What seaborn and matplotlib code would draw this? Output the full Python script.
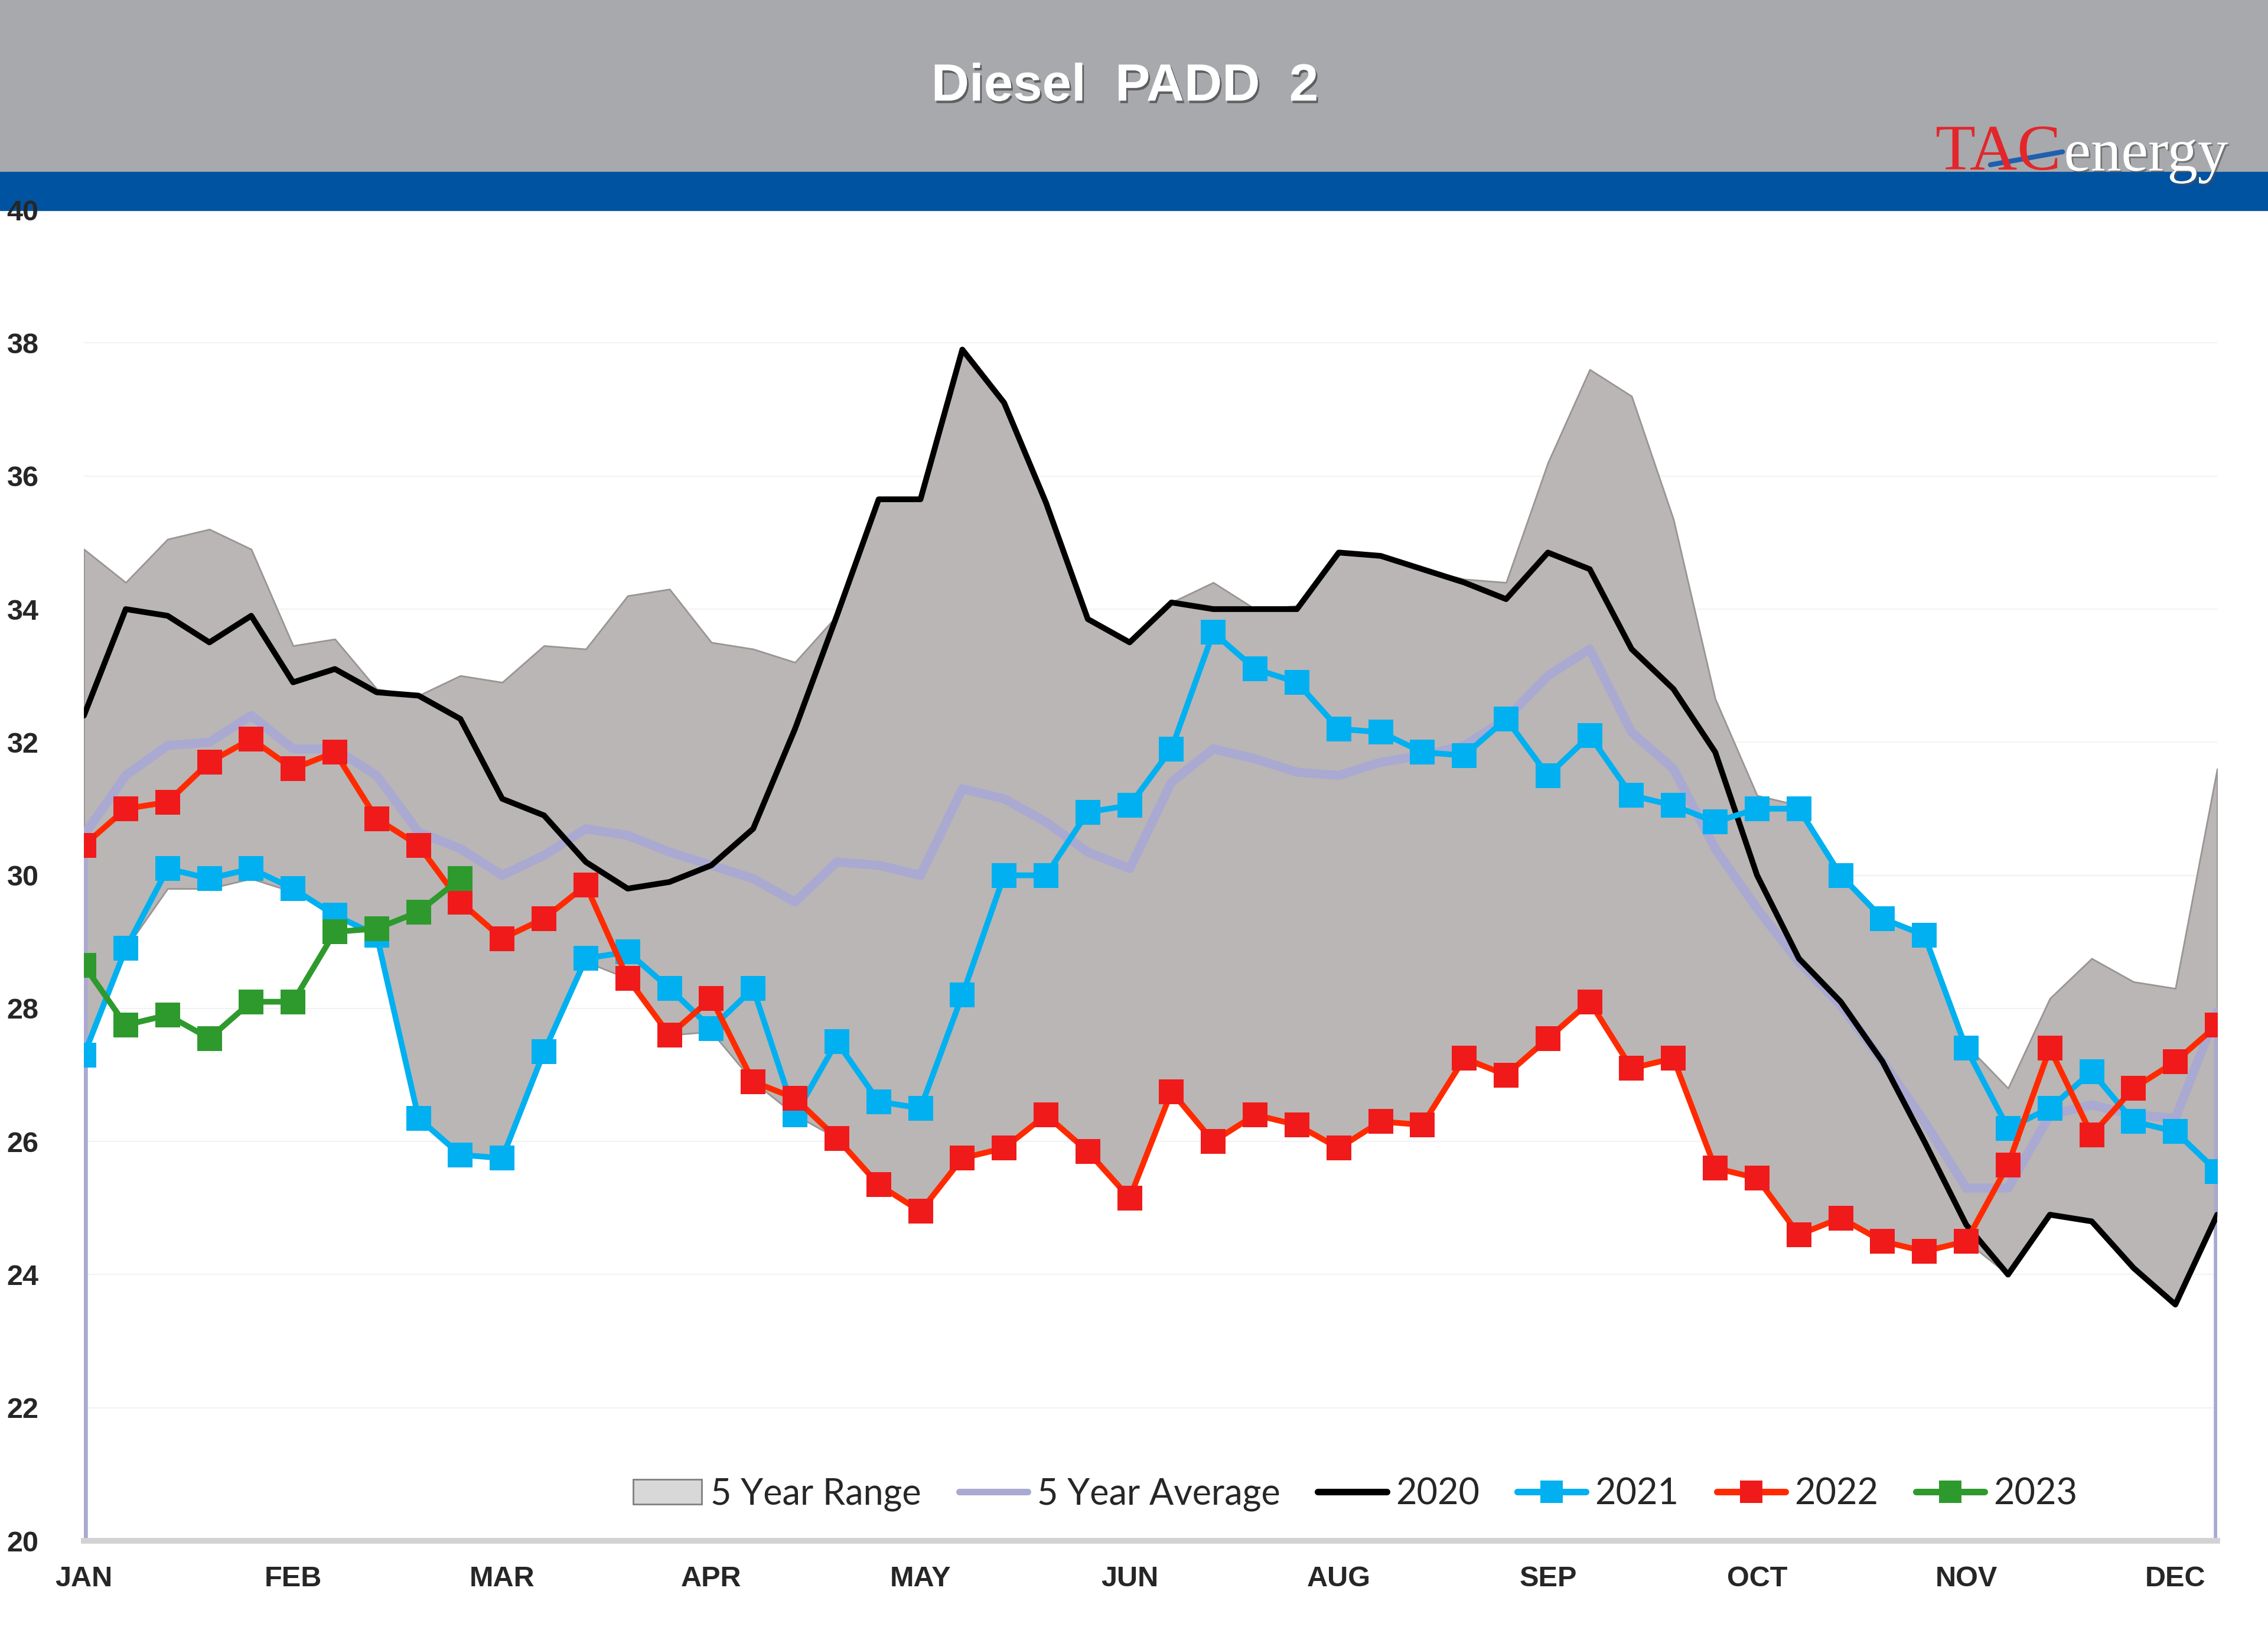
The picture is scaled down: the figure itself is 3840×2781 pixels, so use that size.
import pandas as pd
import matplotlib
matplotlib.use('Agg')
import matplotlib.pyplot as plt
import matplotlib.patheffects as pe
from matplotlib.patches import Rectangle, Patch
from matplotlib.lines import Line2D
import seaborn as sns

# weekly data, 52 weeks
weeks = list(range(52))
months = ['JAN', 'FEB', 'MAR', 'APR', 'MAY', 'JUN', 'AUG', 'SEP', 'OCT', 'NOV', 'DEC']

range_hi = [34.9, 34.4, 35.05, 35.2, 34.9, 33.45, 33.55, 32.8, 32.7, 33.0, 32.9, 33.45, 33.4,
            34.2, 34.3, 33.5, 33.4, 33.2, 33.9, 35.65, 35.65, 37.9, 37.1, 35.6, 33.85, 33.5,
            34.1, 34.4, 34.0, 34.05, 34.85, 34.8, 34.6, 34.45, 34.4, 36.2, 37.6, 37.2, 35.35,
            32.65, 31.2, 31.05, 30.0, 29.35, 29.1, 27.45, 26.8, 28.15, 28.75, 28.4, 28.3, 31.6]
range_lo = [27.3, 28.9, 29.8, 29.8, 29.95, 29.75, 29.4, 29.05, 26.35, 25.8, 25.75, 27.35, 28.7,
            28.45, 27.6, 27.65, 26.9, 26.4, 26.05, 25.35, 24.95, 25.75, 25.9, 26.4, 25.8, 25.15,
            26.75, 26.0, 26.4, 26.25, 25.9, 26.3, 26.25, 27.2, 27.0, 27.5, 28.1, 27.1, 27.25,
            25.6, 25.45, 24.6, 24.85, 24.5, 24.35, 24.5, 24.0, 24.9, 24.8, 24.1, 23.55, 24.9]
avg5 = [30.6, 31.5, 31.95, 32.0, 32.4, 31.9, 31.9, 31.5, 30.65, 30.4, 30.0, 30.3, 30.7, 30.6,
        30.35, 30.15, 29.95, 29.6, 30.2, 30.15, 30.0, 31.3, 31.15, 30.8, 30.35, 30.1, 31.4, 31.9,
        31.75, 31.55, 31.5, 31.7, 31.8, 31.95, 32.35, 33.0, 33.4, 32.15, 31.6, 30.4, 29.5, 28.7,
        28.05, 27.2, 26.3, 25.3, 25.3, 26.4, 26.55, 26.4, 26.35, 27.95]
y2020 = [32.4, 34.0, 33.9, 33.5, 33.9, 32.9, 33.1, 32.75, 32.7, 32.35, 31.15, 30.9, 30.2, 29.8,
         29.9, 30.15, 30.7, 32.2, 33.9, 35.65, 35.65, 37.9, 37.1, 35.6, 33.85, 33.5, 34.1, 34.0,
         34.0, 34.0, 34.85, 34.8, 34.6, 34.4, 34.15, 34.85, 34.6, 33.4, 32.8, 31.85, 30.0, 28.75,
         28.1, 27.2, 26.0, 24.75, 24.0, 24.9, 24.8, 24.1, 23.55, 24.9]
y2021 = [27.3, 28.9, 30.1, 29.95, 30.1, 29.8, 29.4, 29.1, 26.35, 25.8, 25.75, 27.35, 28.75, 28.85,
         28.3, 27.7, 28.3, 26.4, 27.5, 26.6, 26.5, 28.2, 30.0, 30.0, 30.95, 31.05, 31.9, 33.65,
         33.1, 32.9, 32.2, 32.15, 31.85, 31.8, 32.35, 31.5, 32.1, 31.2, 31.05, 30.8, 31.0, 31.0,
         30.0, 29.35, 29.1, 27.4, 26.2, 26.5, 27.05, 26.3, 26.15, 25.55]
y2022 = [30.45, 31.0, 31.1, 31.7, 32.05, 31.6, 31.85, 30.85, 30.45, 29.6, 29.05, 29.35, 29.85,
         28.45, 27.6, 28.15, 26.9, 26.65, 26.05, 25.35, 24.95, 25.75, 25.9, 26.4, 25.85, 25.15,
         26.75, 26.0, 26.4, 26.25, 25.9, 26.3, 26.25, 27.25, 27.0, 27.55, 28.1, 27.1, 27.25, 25.6,
         25.45, 24.6, 24.85, 24.5, 24.35, 24.5, 25.65, 27.4, 26.1, 26.8, 27.2, 27.75]
y2023 = [28.65, 27.75, 27.9, 27.55, 28.1, 28.1, 29.15, 29.2, 29.45, 29.95]

df = pd.DataFrame({'week': weeks, 'hi': range_hi, 'lo': range_lo, 'avg': avg5,
                   '2020': y2020, '2021': y2021, '2022': y2022})
df23 = pd.DataFrame({'week': weeks[:len(y2023)], '2023': y2023})

c_range = '#BAB6B5'
c_avg = '#A9A9D2'
c_2021 = '#00B0F0'
c_2022 = '#FF2A00'
c_2022m = '#F01A1A'
c_2023 = '#2E9A2E'

sns.set_theme(style='white')
plt.rcParams['font.family'] = ['Liberation Sans', 'DejaVu Sans']

fig = plt.figure(figsize=(38.4, 27.81), dpi=100)

# header bands (behind the axes so the top tick label stays visible)
fig.patches.append(Rectangle((0, 0.8954), 1, 0.1046, transform=fig.transFigure,
                             color='#A7A9AC', zorder=-2))
fig.patches.append(Rectangle((0, 0.872), 1, 0.0234, transform=fig.transFigure,
                             color='#0053A1', zorder=-2))
fig.text(0.496, 0.947, 'Diesel  PADD  2', color='white', fontsize=64, fontweight='bold',
         ha='center', va='center',
         path_effects=[pe.withSimplePatchShadow(offset=(2, -3), shadow_rgbFace='#404040', alpha=0.7)])
fig.text(0.8534, 0.8968, 'TAC', color='#E3262B', fontsize=80, family='Liberation Serif',
         ha='left', va='baseline')
fig.text(0.9100, 0.8962, 'energy', color='white', fontsize=74, family='Liberation Serif',
         ha='left', va='baseline',
         path_effects=[pe.withSimplePatchShadow(offset=(2, -2), shadow_rgbFace='#505050', alpha=0.6)])
fig.add_artist(Line2D([0.8776, 0.9094], [0.8997, 0.9076], transform=fig.transFigure,
                      color='#1F5FAF', linewidth=6))

ax = fig.add_axes([0.037, 0.0622, 0.9406, 0.8101])
ax.patch.set_alpha(0)

# 5 year range band
ax.fill_between(df['week'], df['lo'], df['hi'], color=c_range, edgecolor='#9A9595',
                linewidth=2, zorder=1)

# 5 year average, dropping to the axis floor at both ends
ax.vlines([weeks[0], weeks[-1]], 20, [avg5[0], avg5[-1]], color=c_avg, linewidth=9, zorder=2)
sns.lineplot(data=df, x='week', y='avg', ax=ax, color=c_avg, linewidth=11, zorder=3)

sns.lineplot(data=df, x='week', y='2020', ax=ax, color='black', linewidth=7, zorder=4)
sns.lineplot(data=df, x='week', y='2021', ax=ax, color=c_2021, linewidth=7, marker='s',
             markersize=30, markeredgewidth=0, zorder=5)
sns.lineplot(data=df, x='week', y='2022', ax=ax, color=c_2022, linewidth=7, marker='s',
             markersize=30, markerfacecolor=c_2022m, markeredgewidth=0, zorder=6)
sns.lineplot(data=df23, x='week', y='2023', ax=ax, color=c_2023, linewidth=7, marker='s',
             markersize=30, markeredgewidth=0, zorder=7)

ax.set_xlim(weeks[0], weeks[-1])
ax.set_ylim(20, 40)
ax.set_yticks(list(range(20, 41, 2)))
ax.set_xticks(weeks[::5])
ax.set_xticklabels(months)
ax.tick_params(axis='y', length=0, pad=55, labelsize=35)
ax.tick_params(axis='x', length=0, pad=30, labelsize=35)
for lab in ax.get_xticklabels() + ax.get_yticklabels():
    lab.set_fontweight('bold')
ax.set_xlabel('')
ax.set_ylabel('')
ax.grid(axis='y', color='#F2F2F2', linewidth=1.5)
ax.yaxis.get_gridlines()[-1].set_visible(False)
ax.set_axisbelow(True)
for s in ['top', 'left', 'right']:
    ax.spines[s].set_visible(False)
ax.spines['bottom'].set_color('#D2D2D2')
ax.spines['bottom'].set_linewidth(7)

handles = [
    Patch(facecolor='#D8D8D8', edgecolor='#7F7F7F', linewidth=2),
    Line2D([], [], color=c_avg, linewidth=8),
    Line2D([], [], color='black', linewidth=8),
    Line2D([], [], color=c_2021, linewidth=8, marker='s', markersize=28, markeredgewidth=0),
    Line2D([], [], color=c_2022, linewidth=8, marker='s', markersize=28,
           markerfacecolor=c_2022m, markeredgewidth=0),
    Line2D([], [], color=c_2023, linewidth=8, marker='s', markersize=28, markeredgewidth=0),
]
labels = ['5 Year Range', '5 Year Average', '2020', '2021', '2022', '2023']
ax.legend(handles, labels, loc='center', bbox_to_anchor=(0.596, 0.035), ncol=6,
          frameon=False, prop={'family': 'Lato', 'size': 44}, handlelength=1.9,
          handletextpad=0.25, columnspacing=1.05)

fig.savefig('out.png', dpi=100, facecolor='white')
